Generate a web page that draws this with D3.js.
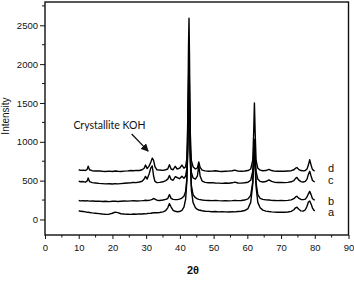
<!DOCTYPE html>
<html><head><meta charset="utf-8">
<script src="https://cdn.jsdelivr.net/npm/d3@7"></script>
<style>html,body{margin:0;padding:0;background:#fff;}svg{display:block;}</style>
</head><body>
<script>
const twoTheta = [10,10.6,11.3,12,12.5,12.8,13.2,14,15,16,17,18,19,20,20.8,21.6,22.5,23.5,24.5,25.5,26.3,27,28,28.8,29.4,29.8,30.3,30.9,31.4,31.8,32.2,32.6,33.2,34,35,35.8,36.4,36.9,37.4,38,38.6,39.2,39.9,40.6,41.2,41.7,42.05,42.35,42.55,42.7,42.85,43.05,43.4,43.9,44.6,45.2,45.6,46.0,46.6,47.5,48.5,49.5,50.5,51.5,52.5,53.5,54.5,55.5,56.3,57.2,58.2,59.2,60.2,61.0,61.6,61.9,62.1,62.3,62.6,63.1,63.8,64.6,65.5,66.4,67.2,68,69,70,71,72,73,73.8,74.3,74.7,75.2,75.9,76.6,77.2,77.7,78.1,78.5,78.9,79.3,79.7,80];
const traceD = [640,632,636,630,645,685,640,628,624,626,620,618,622,618,624,620,618,622,625,630,628,632,630,640,660,700,655,690,740,790,760,680,640,636,632,640,650,705,650,640,685,650,660,700,660,680,780,1300,2200,2590,2100,1150,760,680,650,665,740,670,635,625,620,622,628,620,618,620,622,628,635,622,620,624,630,650,760,1150,1500,1150,760,660,635,628,630,645,630,622,620,622,620,624,628,640,660,668,645,630,625,630,650,700,770,700,645,630,625];
const traceC = [492,485,488,480,495,535,488,475,470,465,462,458,460,456,462,458,462,466,470,472,478,474,482,492,520,555,520,590,665,690,560,490,475,478,485,500,520,565,515,505,550,540,525,555,530,560,650,1050,1750,2080,1700,950,610,535,520,560,700,560,495,478,472,474,470,468,465,470,466,472,480,470,468,472,480,505,620,850,1030,860,620,520,490,482,488,510,490,480,476,478,474,478,485,500,530,542,510,488,482,490,520,580,620,560,505,490,485];
const traceB = [245,240,243,238,242,240,236,238,235,236,232,234,230,234,236,232,235,238,236,240,242,238,240,242,245,248,244,248,252,258,270,262,248,245,250,258,270,320,272,258,255,256,262,275,300,360,520,950,1600,1850,1500,850,440,320,280,265,258,255,250,246,244,242,245,242,240,243,240,242,245,242,245,250,265,310,480,780,900,760,470,320,272,258,252,250,246,244,242,244,242,246,252,268,290,298,275,258,256,262,290,330,362,320,270,255,250];
const traceA = [112,105,102,98,92,95,90,85,80,75,70,66,68,80,95,88,74,70,68,66,70,68,72,70,74,72,76,78,80,84,86,88,86,90,98,115,150,205,160,118,105,100,102,118,160,260,480,900,1450,1700,1400,800,380,220,150,130,122,118,112,106,104,100,102,98,100,98,96,100,98,102,106,115,140,220,450,720,850,700,420,220,150,120,108,102,98,95,92,94,92,96,104,125,150,158,135,110,108,125,170,225,238,200,150,120,110];
const seriesNames = ["a","b","c","d"];
const seriesLabelValue = [90,230,500,660];
const xTicks = [0,10,20,30,40,50,60,70,80,90];
const yTicks = [0,500,1000,1500,2000,2500];
const xLabel = "2θ";
const yLabel = "Intensity";
const annotationText = "Crystallite KOH";

const W = 354, H = 282;
const svg = d3.select("body").append("svg").attr("width", W).attr("height", H);
const x = d3.scaleLinear().domain([0, 90]).range([45, 348.5]);
const y = d3.scaleLinear().domain([-200, 2800]).range([235, 2]);

const traces = [traceA, traceB, traceC, traceD];
const line = d3.line().x((d,i) => x(twoTheta[i])).y(d => y(d));
svg.append("g").selectAll("path").data(traces).join("path")
  .attr("d", d => line(d)).attr("fill", "none").attr("stroke", "#000")
  .attr("stroke-width", 1.4).attr("stroke-linejoin", "round");

// axes
const xAxis = d3.axisBottom(x).tickValues(xTicks).tickSize(4).tickSizeOuter(0).tickFormat(d3.format("d"));
const gx = svg.append("g").attr("transform", "translate(0,235)").call(xAxis);
gx.append("g").selectAll("line").data(d3.range(5, 90, 10)).join("line")
  .attr("x1", d => x(d)).attr("x2", d => x(d)).attr("y1", 0).attr("y2", 2.5).attr("stroke", "#111");
const yAxis = d3.axisLeft(y).tickValues(yTicks).tickSize(5).tickSizeOuter(0).tickFormat(d3.format("d"));
const gy = svg.append("g").attr("transform", "translate(45,0)").call(yAxis);
gy.append("g").selectAll("line").data(d3.range(250, 2800, 500)).join("line")
  .attr("x1", -3).attr("x2", 0).attr("y1", d => y(d)).attr("y2", d => y(d)).attr("stroke", "#111");
[gx, gy].forEach(g => {
  g.select(".domain").remove();
  g.selectAll(".tick line").attr("stroke", "#111").attr("stroke-width", 1);
  g.selectAll(".tick text").attr("font-family", "Liberation Sans, Arial, sans-serif").attr("font-size", 9.5).attr("fill", "#111");
});
gx.selectAll(".tick text").attr("dy", "0.95em");
gy.selectAll(".tick text").attr("x", -7);

svg.append("rect").attr("x", x(0)).attr("y", y(2800)).attr("width", x(90) - x(0)).attr("height", y(-200) - y(2800))
  .attr("fill", "none").attr("stroke", "#111").attr("stroke-width", 1.4);

svg.append("text").attr("x", 193).attr("y", 274).attr("text-anchor", "middle")
  .attr("font-family", "Liberation Sans, Arial, sans-serif").attr("font-size", 11).attr("font-weight", "bold").attr("fill", "#111").text(xLabel);
svg.append("text").attr("transform", "translate(9,116) rotate(-90)").attr("text-anchor", "middle")
  .attr("font-family", "Liberation Sans, Arial, sans-serif").attr("font-size", 10).attr("fill", "#111").text(yLabel);

// series labels
svg.append("g").selectAll("text").data(seriesNames).join("text")
  .attr("x", 328).attr("y", (d,i) => y(seriesLabelValue[i])).attr("dy", "0.35em")
  .attr("font-family", "Liberation Sans, Arial, sans-serif").attr("font-size", 11).attr("fill", "#111").text(d => d);

// annotation
svg.append("text").attr("x", x(19.1)).attr("y", y(1215)).attr("dy", "0.35em").attr("text-anchor", "middle")
  .attr("font-family", "Lato, sans-serif").attr("font-size", 10.5).attr("fill", "#111").text(annotationText);
const defs = svg.append("defs");
defs.append("marker").attr("id", "ah").attr("viewBox", "0 0 10 10").attr("refX", 9).attr("refY", 5)
  .attr("markerWidth", 6).attr("markerHeight", 6).attr("orient", "auto")
  .append("path").attr("d", "M0,0L10,5L0,10z").attr("fill", "#111");
svg.append("line").attr("x1", x(25.7)).attr("y1", y(1100)).attr("x2", x(30.6)).attr("y2", y(880))
  .attr("stroke", "#111").attr("stroke-width", 1.3).attr("marker-end", "url(#ah)");
</script>
</body></html>
